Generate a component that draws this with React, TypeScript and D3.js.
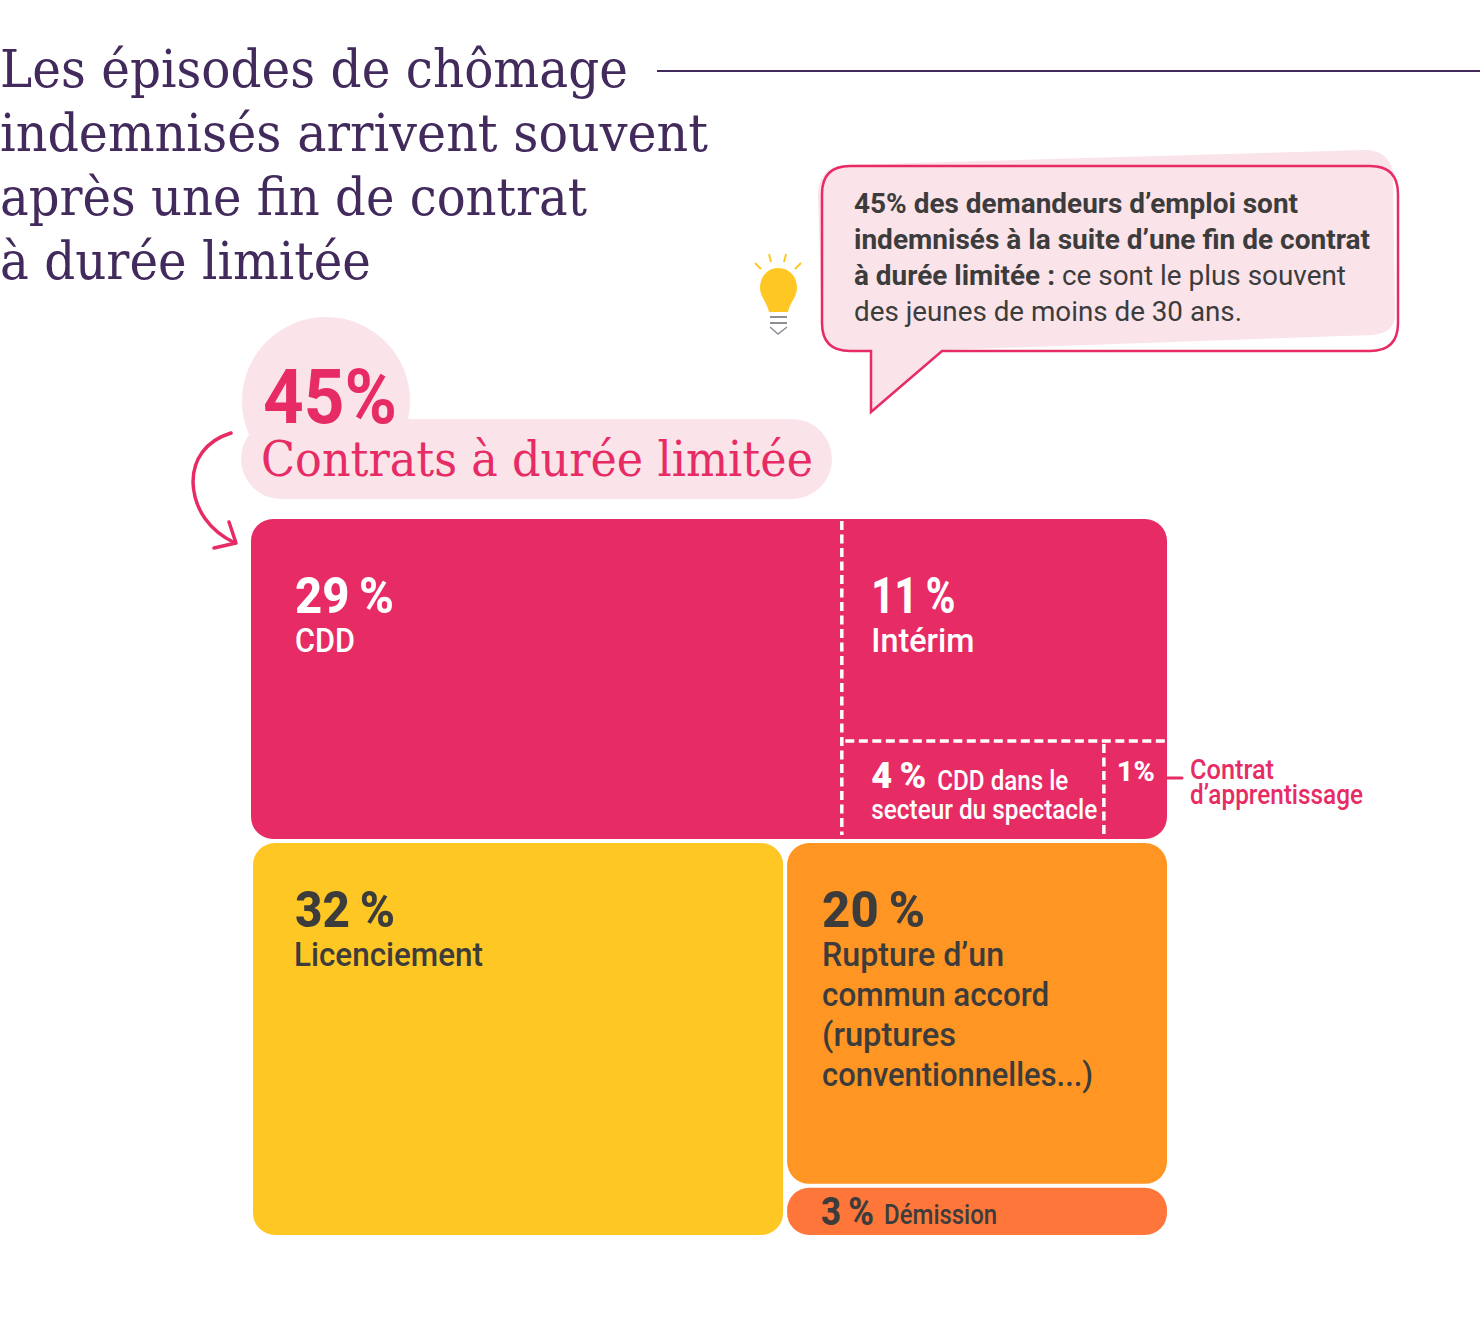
import React from 'react';
import * as d3 from 'd3';

const WIDTH = 1480;
const HEIGHT = 1320;

// title and callout copy
const titleLines = ['Les épisodes de chômage', 'indemnisés arrivent souvent', 'après une fin de contrat', 'à durée limitée'];
const titleWidths = [628, 708, 587, 371];

// leaf values, in percent
const cddValue = 29;
const interimValue = 11;
const spectacleValue = 4;
const apprentissageValue = 1;
const licenciementValue = 32;
const ruptureValue = 20;
const demissionValue = 3;
const limitedTotal = 45;

const PINK = '#E72C65';
const PALE = '#FAE3E9';
const YELLOW = '#FFC724';
const ORANGE = '#FF9522';
const CORAL = '#FF763A';
const DARK = '#3C3C3C';
const PURPLE = '#432A5C';
const LABEL_FONT = 'Roboto, sans-serif';
const SLAB_FONT = '"DejaVu Serif", serif';

interface Cell {
  name: string;
  value?: number;
  children?: Cell[];
}

const tree: Cell = {
  name: 'root',
  children: [
    {
      name: 'limited',
      children: [
        { name: 'cdd', value: cddValue },
        {
          name: 'others',
          children: [
            { name: 'interim', value: interimValue },
            {
              name: 'small',
              children: [
                { name: 'spectacle', value: spectacleValue },
                { name: 'apprentissage', value: apprentissageValue }
              ]
            }
          ]
        }
      ]
    },
    {
      name: 'rest',
      children: [
        { name: 'licenciement', value: licenciementValue },
        {
          name: 'right',
          children: [
            { name: 'rupture', value: ruptureValue },
            { name: 'demission', value: demissionValue }
          ]
        }
      ]
    }
  ]
};

// stacks rows at even depths, columns at odd depths
const tile = (node: any, x0: number, y0: number, x1: number, y1: number) => {
  if (node.depth % 2 === 0) d3.treemapSlice(node, x0, y0, x1, y1);
  else d3.treemapDice(node, x0, y0, x1, y1);
};

const root = d3
  .treemap<Cell>()
  .size([916, 716])
  .tile(tile)
  .round(false)
  .paddingInner((d) => (d.data.name === 'root' || d.data.name === 'rest' ? 4 : 0))
  .paddingLeft((d) => (d.data.name === 'rest' ? 2 : 0))(
    d3.hierarchy(tree).sum((d) => d.value ?? 0)
  );

const cell = (name: string) => root.descendants().find((d) => d.data.name === name)!;

// text squeezed to the measured width of the reference
const Label: React.FC<{
  x: number;
  y: number;
  w: number;
  size: number;
  fill: string;
  weight?: number;
  font?: string;
  children: string;
}> = ({ x, y, w, size, fill, weight = 500, font = LABEL_FONT, children }) => (
  <text
    x={x}
    y={y}
    fontFamily={font}
    fontSize={size}
    fontWeight={weight}
    fill={fill}
    textLength={w}
    lengthAdjust="spacingAndGlyphs"
  >
    {children}
  </text>
);

const Bulb = () => (
  <g>
    <path
      d="M778 268C790 268 797 277 797 288C797 297 790 302 788 312L769 312C767 302 760 297 760 288C760 277 767 268 778 268Z"
      fill={YELLOW}
    />
    <g stroke={YELLOW} strokeWidth={2} fill="none">
      <path d="M755 263L761 269M769 254L771 262M786 254L784 262M801 263L795 269" />
    </g>
    <g stroke="#8C8F96" strokeWidth={2} fill="none">
      <path d="M770 317H787M770 323H787" />
      <path d="M770 327L778 334L787 327" strokeWidth={1.5} />
    </g>
  </g>
);

const Callout = () => (
  <g>
    <path
      d="M818 195Q818 168 845 165L1365 150Q1388 150 1393 172L1395 315Q1395 333 1372 335L942 350L871 412L871 351L850 351Q822 350 822 325Z"
      fill={PALE}
    />
    <path
      d="M850 166H1370Q1398 166 1398 194V323Q1398 351 1370 351H942L871 412V351H850Q822 351 822 323V194Q822 166 850 166Z"
      fill="none"
      stroke={PINK}
      strokeWidth={2.5}
    />
    <Label x={854} y={213} w={444} size={28} fill={DARK} weight={700}>45% des demandeurs d’emploi sont</Label>
    <Label x={854} y={249} w={516} size={28} fill={DARK} weight={700}>indemnisés à la suite d’une fin de contrat</Label>
    <Label x={854} y={285} w={201} size={28} fill={DARK} weight={700}>à durée limitée :</Label>
    <Label x={1062} y={285} w={284} size={28} fill={DARK} weight={400}>ce sont le plus souvent</Label>
    <Label x={854} y={321} w={388} size={28} fill={DARK} weight={400}>des jeunes de moins de 30 ans.</Label>
  </g>
);

const App: React.FC = () => {
  const limited = cell('limited');
  const cdd = cell('cdd');
  const interim = cell('interim');
  const spectacle = cell('spectacle');
  const apprentissage = cell('apprentissage');
  const licenciement = cell('licenciement');
  const rupture = cell('rupture');
  const demission = cell('demission');

  const dash = { stroke: '#fff', strokeWidth: 3.5, strokeDasharray: '9 4.5', fill: 'none' };
  const pct = (v: number) => `${v}\u2009%`;

  return (
    <div style={{ position: 'absolute', left: 0, top: 0 }}>
      <svg width={WIDTH} height={HEIGHT} viewBox={`0 0 ${WIDTH} ${HEIGHT}`} style={{ display: 'block' }}>
        {titleLines.map((line, i) => (
          <Label key={line} x={0} y={87 + i * 64} w={titleWidths[i]} size={52} fill={PURPLE} font={SLAB_FONT} weight={400}>
            {line}
          </Label>
        ))}
        <line x1={657} x2={WIDTH} y1={71} y2={71} stroke={PURPLE} strokeWidth={2} />

        <Bulb />
        <Callout />

        {/* 45% heading */}
        <circle cx={326} cy={401} r={84} fill={PALE} />
        <rect x={241} y={419} width={591} height={80} rx={40} fill={PALE} />
        <Label x={263} y={423} w={134} size={76} fill={PINK} weight={700}>{`${limitedTotal}%`}</Label>
        <Label x={261} y={476} w={552} size={48} fill={PINK} font={SLAB_FONT} weight={400}>Contrats à durée limitée</Label>
        <g fill="none" stroke={PINK} strokeWidth={3.5} strokeLinecap="round" strokeLinejoin="round">
          <path d="M231 433C205 441 193 460 193 482C194 510 210 531 235 543" />
          <path d="M229 522L236 543L214 548" />
        </g>

        <g transform="translate(251,519)">
          <rect
            x={limited.x0}
            y={limited.y0}
            width={limited.x1 - limited.x0}
            height={limited.y1 - limited.y0}
            rx={22}
            fill={PINK}
          />
          <path d={`M${cdd.x1 + 0.5} 2V${limited.y1 - 4}`} {...dash} />
          <path d={`M${interim.x0 + 4} ${interim.y1 + 2}H${limited.x1}`} {...dash} />
          <path d={`M${spectacle.x1 + 2} ${interim.y1 + 5}V${limited.y1 - 4}`} {...dash} />

          {[licenciement, rupture].map((d, i) => (
            <rect
              key={d.data.name}
              x={d.x0}
              y={d.y0}
              width={d.x1 - d.x0}
              height={d.y1 - d.y0}
              rx={22}
              fill={i === 0 ? YELLOW : ORANGE}
            />
          ))}
          <rect
            x={demission.x0}
            y={demission.y0 + 4}
            width={demission.x1 - demission.x0}
            height={demission.y1 - demission.y0 - 4}
            rx={22}
            fill={CORAL}
          />

          <Label x={cdd.x0 + 44} y={94} w={99} size={50} fill="#fff" weight={800}>{pct(cddValue)}</Label>
          <Label x={cdd.x0 + 44} y={133} w={60} size={34} fill="#fff">CDD</Label>

          <Label x={interim.x0 + 30} y={94} w={84} size={50} fill="#fff" weight={800}>{pct(interimValue)}</Label>
          <Label x={interim.x0 + 30} y={133} w={103} size={34} fill="#fff">Intérim</Label>

          <Label x={spectacle.x0 + 30} y={269} w={55} size={36} fill="#fff" weight={900}>{pct(spectacleValue)}</Label>
          <Label x={spectacle.x0 + 96} y={271} w={131} size={28} fill="#fff">CDD dans le</Label>
          <Label x={spectacle.x0 + 30} y={300} w={226} size={28} fill="#fff">secteur du spectacle</Label>

          <Label x={apprentissage.x0 + 15} y={262} w={38} size={28} fill="#fff" weight={800}>{`${apprentissageValue}%`}</Label>

          <Label x={licenciement.x0 + 42} y={408} w={100} size={50} fill={DARK} weight={800}>{pct(licenciementValue)}</Label>
          <Label x={licenciement.x0 + 41} y={447} w={189} size={34} fill={DARK}>Licenciement</Label>

          <Label x={rupture.x0 + 35} y={408} w={103} size={50} fill={DARK} weight={800}>{pct(ruptureValue)}</Label>
          <Label x={rupture.x0 + 35} y={447} w={182} size={34} fill={DARK}>Rupture d’un</Label>
          <Label x={rupture.x0 + 35} y={487} w={227} size={34} fill={DARK}>commun accord</Label>
          <Label x={rupture.x0 + 35} y={527} w={134} size={34} fill={DARK}>(ruptures</Label>
          <Label x={rupture.x0 + 35} y={567} w={271} size={34} fill={DARK}>conventionnelles...)</Label>

          <Label x={demission.x0 + 34} y={706} w={53} size={38} fill={DARK} weight={800}>{pct(demissionValue)}</Label>
          <Label x={demission.x0 + 97} y={705} w={113} size={28} fill={DARK}>Démission</Label>
        </g>

        <line x1={1167} x2={1182} y1={778} y2={778} stroke={PINK} strokeWidth={3} strokeLinecap="round" />
        <Label x={1190} y={779} w={84} size={28} fill={PINK}>Contrat</Label>
        <Label x={1190} y={804} w={173} size={28} fill={PINK}>d’apprentissage</Label>
      </svg>
    </div>
  );
};

export default App;
